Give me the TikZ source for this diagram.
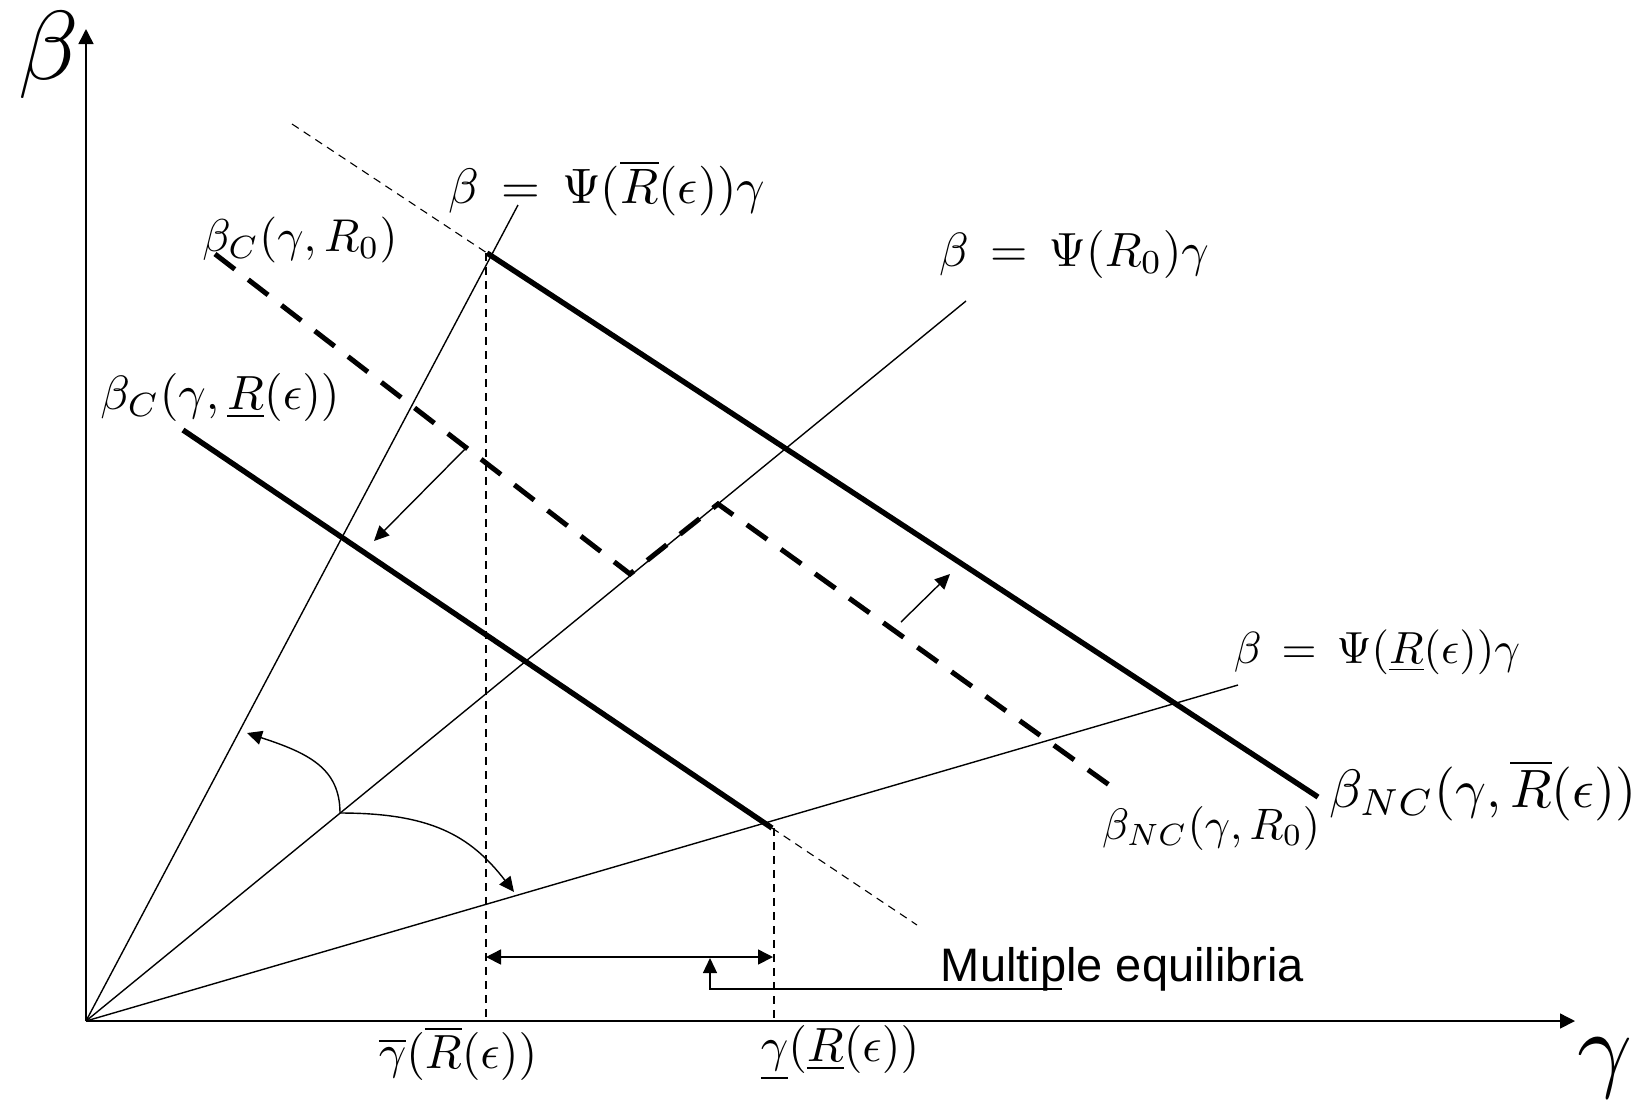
\documentclass[tikz,border=0pt]{standalone}
\usepackage{fontspec}
\newfontfamily\labelsans{Liberation Sans}
\usetikzlibrary{arrows.meta}
\begin{document}
\begin{tikzpicture}[x=0.5pt,y=-0.5pt,
  axis/.style={line width=0.75pt,-{Triangle[length=7.5pt,width=7.5pt]}},
  ray/.style={line width=0.7pt},
  thickline/.style={line width=2.7pt},
  thickdash/.style={line width=2.5pt,dash pattern=on 12.5pt off 8.5pt},
  thindash/.style={line width=0.55pt,dash pattern=on 4pt off 3pt},
  pointer/.style={line width=0.7pt,-{Triangle[length=7.5pt,width=7pt]}},
  dbl/.style={line width=0.8pt,{Triangle[length=7.5pt,width=7.5pt]}-{Triangle[length=7.5pt,width=7.5pt]}},
  lbl/.style={inner sep=0pt,anchor=center},
]
\useasboundingbox (0,0) rectangle (1637,1105);
% key points
\coordinate (O) at (86,1021);
\coordinate (Ytip) at (86,29);
\coordinate (Xtip) at (1575,1021);
\coordinate (S) at (518,205);
\coordinate (M) at (966,301);
\coordinate (L) at (1238,685);
\coordinate (A0) at (292,124);
\coordinate (A1) at (487,253);
\coordinate (A2) at (1318,797);
\coordinate (B1) at (215,254);
\coordinate (B2) at (630,574);
\coordinate (B3) at (718,504);
\coordinate (B5) at (1119,792);
\coordinate (C1) at (183,430);
\coordinate (C2) at (772,828);
\coordinate (C3) at (917,925);
\coordinate (V1a) at (486,253);
\coordinate (V1b) at (486,1021);
\coordinate (V2a) at (774,828);
\coordinate (V2b) at (774,1021);
\coordinate (Ar1s) at (468,446);
\coordinate (Ar1e) at (374,541);
\coordinate (Ar2s) at (901,622);
\coordinate (Ar2e) at (950,574);
\coordinate (P) at (340,813);
\coordinate (T1) at (247,733);
\coordinate (T2) at (514,892);
\coordinate (D1) at (486,957);
\coordinate (D2) at (773,957);
\coordinate (E1) at (1062,989);
\coordinate (E2) at (710,989);
\coordinate (E3) at (710,958);

% axes
\draw[axis] (O) -- (Ytip);
\draw[axis] (O) -- (Xtip);
% rays
\draw[ray] (O) -- (S);
\draw[ray] (O) -- (M);
\draw[ray] (O) -- (L);
% curves
\draw[thindash] (A0) -- (A1);
\draw[thickline] (A1) -- (A2);
\draw[thickdash] (B1) -- (B2) -- (B3) -- (B5);
\draw[thickline] (C1) -- (C2);
\draw[thindash] (C2) -- (C3);
\draw[thindash] (V1a) -- (V1b);
\draw[thindash] (V2a) -- (V2b);
% shift arrows
\draw[pointer] (Ar1s) -- (Ar1e);
\draw[pointer] (Ar2s) -- (Ar2e);
\draw[pointer] (P) .. controls (340,768) and (308,753) .. (T1);
\draw[pointer] (P) .. controls (430,813) and (470,835) .. (T2);
% multiple equilibria
\draw[dbl] (D1) -- (D2);
\draw[line width=0.7pt,-{Triangle[length=7.5pt,width=7pt]}] (E1) -- (E2) -- (E3);

% labels
\node[lbl,scale=4.9] (lb) at (49,55) {$\beta$};
\node[lbl,scale=4.8] (lg) at (1605,1068) {$\gamma$};
\node[lbl,scale=2.49] (l1) at (607,188) {$\beta\,=\,\Psi(\overline{R}(\epsilon))\gamma$};
\node[lbl,scale=2.4] (l2) at (1074,254) {$\beta\,=\,\Psi(R_0)\gamma$};
\node[lbl,scale=2.25] (l3) at (1377,652) {$\beta\,=\,\Psi(\underline{R}(\epsilon))\gamma$};
\node[lbl,scale=2.3] (l4) at (300,240) {$\beta_C(\gamma,R_0)$};
\node[lbl,scale=2.4] (l5) at (220,397) {$\beta_C(\gamma,\underline{R}(\epsilon))$};
\node[lbl,scale=2.7] (l6) at (1483,790) {$\beta_{NC}(\gamma,\overline{R}(\epsilon))$};
\node[lbl,scale=2.2] (l7) at (1211,828) {$\beta_{NC}(\gamma,R_0)$};
\node[lbl,scale=2.4] (l8) at (458,1053) {$\overline{\gamma}(\overline{R}(\epsilon))$};
\node[lbl,scale=2.4] (l9) at (840,1053) {$\underline{\gamma}(\underline{R}(\epsilon))$};
\node[inner sep=0pt,anchor=base west,scale=2.35] (lm) at (940,981) {\labelsans Multiple equilibria};
\end{tikzpicture}
\end{document}
